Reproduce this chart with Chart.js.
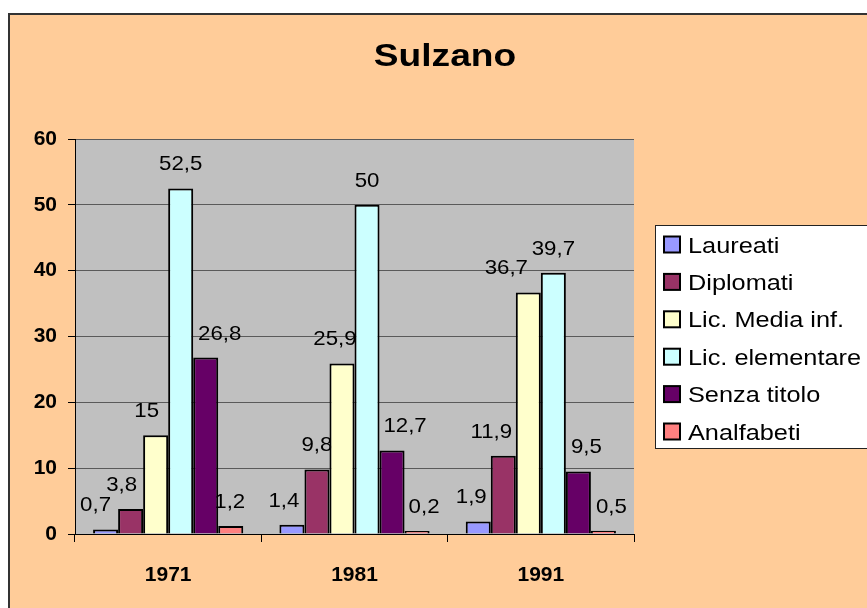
<!DOCTYPE html>
<html>
<head>
<meta charset="utf-8">
<script src="https://cdn.jsdelivr.net/npm/chart.js@4/dist/chart.umd.min.js"></script>
<style>
  html, body { margin: 0; padding: 0; background: #ffffff; }
  canvas { display: block; }
</style>
</head>
<body>
<canvas id="c" width="867" height="608"></canvas>
<script>
const categories = ['1971', '1981', '1991'];
const seriesNames = ['Laureati', 'Diplomati', 'Lic. Media inf.', 'Lic. elementare', 'Senza titolo', 'Analfabeti'];
const laureati = [0.7, 1.4, 1.9];
const diplomati = [3.8, 9.8, 11.9];
const licMedia = [15, 25.9, 36.7];
const licElementare = [52.5, 50, 39.7];
const senzaTitolo = [26.8, 12.7, 9.5];
const analfabeti = [1.2, 0.2, 0.5];
const seriesColors = ['#9999FF', '#993366', '#FFFFCC', '#CCFFFF', '#660066', '#FF8080'];
const yMin = 0, yMax = 60, yStep = 10;
const titleText = 'Sulzano';

// label horizontal nudges (style only), per series per category, in px
const labelNudgeX = [
  [-10, -8, -7],
  [-9, 0, -12],
  [-9, -7, -22],
  [0, 0, 0],
  [14, 13, 8],
  [-1, 7, 8]
];

const FONT = "'Liberation Sans', Arial, sans-serif";
const seriesValues = [laureati, diplomati, licMedia, licElementare, senzaTitolo, analfabeti];

function stretchText(ctx, txt, x, y, font, align, sx) {
  ctx.save();
  ctx.font = font;
  const w = ctx.measureText(txt).width * sx;
  let left = x;
  if (align === 'center') left = x - w / 2;
  else if (align === 'right') left = x - w;
  ctx.translate(left, y);
  ctx.scale(sx, 1);
  ctx.textAlign = 'left';
  ctx.fillText(txt, 0, 0);
  ctx.restore();
}

const bgPlugin = {
  id: 'bg',
  beforeDraw(chart) {
    const ctx = chart.ctx;
    ctx.save();
    ctx.fillStyle = '#ffffff';
    ctx.fillRect(0, 0, chart.width, chart.height);
    ctx.fillStyle = '#FFCC99';
    ctx.fillRect(8, 13, chart.width, chart.height);
    ctx.strokeStyle = '#333333';
    ctx.lineWidth = 2;
    ctx.beginPath();
    ctx.moveTo(9, chart.height + 5);
    ctx.lineTo(9, 14);
    ctx.lineTo(chart.width + 5, 14);
    ctx.stroke();
    const a = chart.chartArea;
    ctx.fillStyle = '#C0C0C0';
    ctx.fillRect(a.left, a.top, a.right - a.left, a.bottom - a.top);
    ctx.fillStyle = '#000';
    ctx.textBaseline = 'alphabetic';
    stretchText(ctx, titleText, 445, 66, 'bold 32px ' + FONT, 'center', 1.16);
    ctx.restore();
  }
};

const labelPlugin = {
  id: 'vlabels',
  beforeDatasetsDraw(chart) {
    const ctx = chart.ctx;
    ctx.save();
    ctx.fillStyle = '#000';
    ctx.textBaseline = 'alphabetic';
    chart.data.datasets.forEach((ds, si) => {
      const meta = chart.getDatasetMeta(si);
      meta.data.forEach((bar, i) => {
        const v = ds.data[i];
        const txt = String(v).replace('.', ',');
        stretchText(ctx, txt, bar.x + labelNudgeX[si][i], bar.y - 18, '21px ' + FONT, 'center', 1.06);
      });
    });
    ctx.restore();
  }
};

const legendPlugin = {
  id: 'boxlegend',
  afterDraw(chart) {
    const ctx = chart.ctx;
    const a = chart.chartArea;
    const left = a.right + 21;
    const top = 225;
    const bottom = 448;
    ctx.save();
    ctx.fillStyle = '#ffffff';
    ctx.fillRect(left, top, chart.width - left + 10, bottom - top);
    ctx.strokeStyle = '#222';
    ctx.lineWidth = 1;
    ctx.strokeRect(left + 0.5, top + 0.5, chart.width - left + 10, bottom - top);
    ctx.textBaseline = 'alphabetic';
    chart.data.datasets.forEach((ds, i) => {
      const cy = 244.5 + i * 37.4;
      ctx.fillStyle = ds.backgroundColor;
      ctx.fillRect(left + 9, cy - 8, 16, 16);
      ctx.strokeStyle = '#000';
      ctx.lineWidth = 2;
      ctx.strokeRect(left + 9, cy - 8, 16, 16);
      ctx.fillStyle = '#000';
      stretchText(ctx, ds.label, left + 33, cy + 8, '22px ' + FONT, 'left', 1.15);
    });
    ctx.restore();
  }
};

new Chart(document.getElementById('c'), {
  type: 'bar',
  data: {
    labels: categories,
    datasets: seriesNames.map((name, i) => ({
      label: name,
      data: seriesValues[i],
      backgroundColor: seriesColors[i],
      borderColor: '#000000',
      borderWidth: 2,
      minBarLength: 3,
      categoryPercentage: 0.806,
      barPercentage: 1.0
    }))
  },
  options: {
    responsive: false,
    maintainAspectRatio: false,
    devicePixelRatio: 1,
    animation: false,
    layout: { padding: { left: 0, right: 233, top: 139, bottom: 0 } },
    plugins: {
      legend: { display: false },
      tooltip: { enabled: false },
      title: { display: false }
    },
    scales: {
      x: {
        grid: {
          display: true,
          offset: true,
          drawOnChartArea: false,
          drawTicks: true,
          tickLength: 8,
          tickColor: '#000'
        },
        border: { display: true, color: '#000', width: 1 },
        ticks: {
          color: '#000',
          font: { family: FONT, size: 21, weight: 'bold' },
          padding: 21
        },
        afterFit(scale) { scale.height = 74; }
      },
      y: {
        min: yMin,
        max: yMax,
        grid: {
          color: '#5a5a5a',
          lineWidth: 1,
          drawTicks: true,
          tickLength: 7,
          tickColor: '#000'
        },
        border: { display: true, color: '#000', width: 1 },
        ticks: {
          stepSize: yStep,
          color: '#000',
          font: { family: FONT, size: 21, weight: 'bold' },
          padding: 11
        },
        afterFit(scale) { scale.width = 75; }
      }
    }
  },
  plugins: [bgPlugin, labelPlugin, legendPlugin]
});
</script>
</body>
</html>
